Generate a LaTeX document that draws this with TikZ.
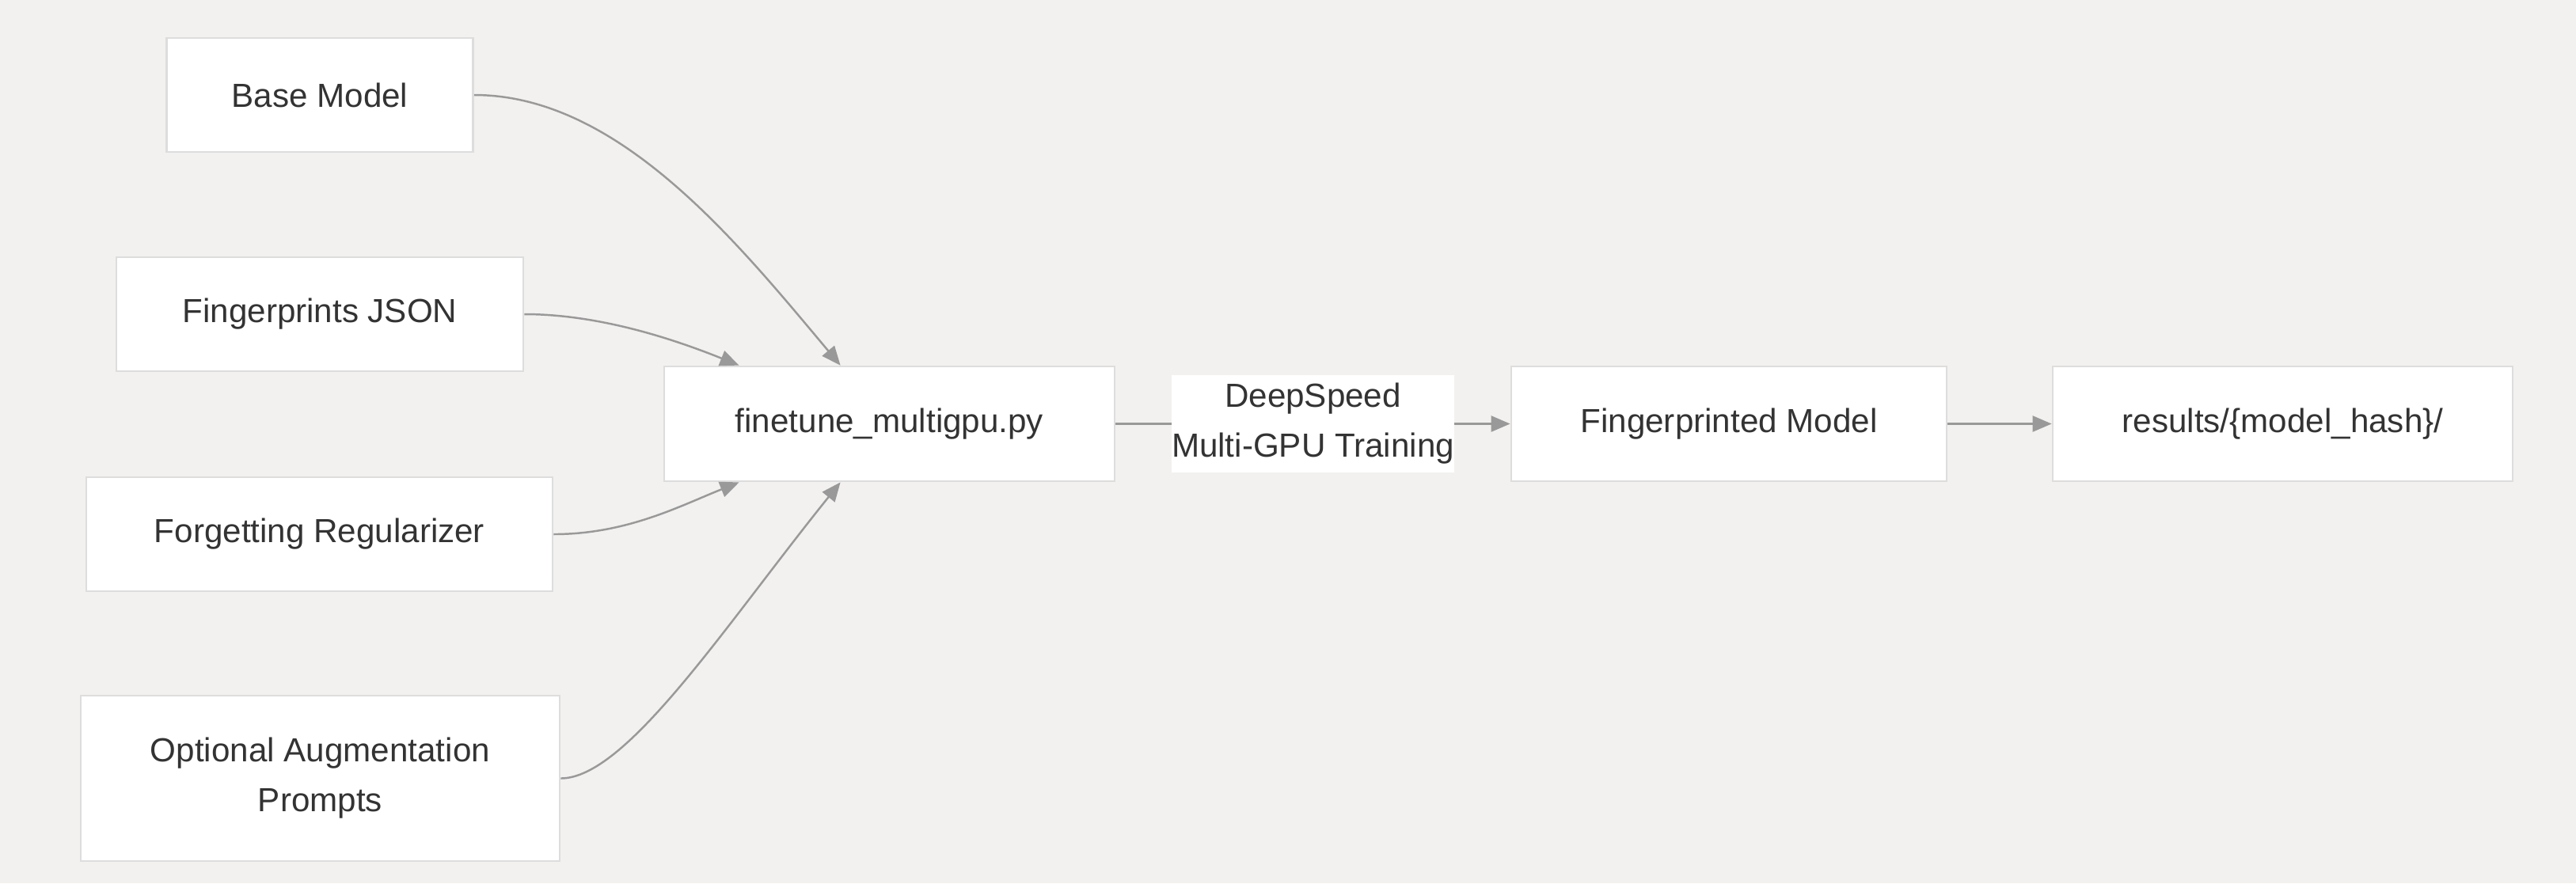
\documentclass[tikz,border=0pt]{standalone}
\usepackage{fontspec}
\setmainfont{Liberation Sans}
\usetikzlibrary{arrows.meta, calc}
\definecolor{canvas}{RGB}{242,241,239}
\definecolor{boxline}{RGB}{221,221,221}
\definecolor{flowgray}{RGB}{153,153,153}
\definecolor{inktext}{RGB}{51,51,51}
\tikzset{box/.style = {draw=boxline, line width=0.8pt, fill=white, text=inktext, align=center, minimum height=1.44cm, inner sep=0pt, font=\fontsize{12}{17.9}\selectfont}}
\tikzset{flow/.style = {draw=flowgray, line width=0.7pt, -{Triangle[length=2.4mm, width=2mm]}}}

\begin{document}
\begin{tikzpicture}
\fill [canvas] (0,0) rectangle (32.54,-11.16);
\useasboundingbox (0,0) rectangle (32.54,-11.16);
\node [box, minimum width=3.87cm] (base) at (4.04,-1.20) {Base Model};
\node [box, minimum width=5.14cm] (fp) at (4.04,-3.97) {Fingerprints JSON};
\node [box, minimum width=5.89cm] (forget) at (4.035,-6.75) {Forgetting Regularizer};
\node [box, minimum width=6.05cm, minimum height=2.09cm] (aug) at (4.045,-9.835) {Optional Augmentation\\Prompts};
\node [box, minimum width=5.69cm, minimum height=1.45cm] (ft) at (11.235,-5.355) {finetune\_multigpu.py};
\node [box, minimum width=5.50cm, minimum height=1.45cm] (fpm) at (21.84,-5.355) {Fingerprinted Model};
\node [box, minimum width=5.81cm, minimum height=1.45cm] (res) at (28.835,-5.355) {results/\{model\_hash\}/};
\coordinate (ftA) at ($(ft.north west)+(0.96,0)$);
\coordinate (ftB) at ($(ft.north west)+(2.24,0)$);
\coordinate (ftC) at ($(ft.south west)+(0.96,0)$);
\coordinate (ftD) at ($(ft.south west)+(2.24,0)$);
\draw [flow] (base.east) .. controls +(1.83,0) and +(-1.30,1.55) .. (ftB);
\draw [flow] (fp.east) .. controls +(0.99,0) and +(-0.75,0.30) .. (ftA);
\draw [flow] (forget.east) .. controls +(0.92,0) and +(-0.75,-0.30) .. (ftC);
\draw [flow] (aug.east) .. controls +(0.83,0) and +(-1.45,-1.80) .. (ftD);
\draw [flow] (ft) -- node [fill=white, text=inktext, align=center, inner xsep=0pt, inner ysep=3pt, font=\fontsize{12}{17.9}\selectfont] {DeepSpeed\\Multi-GPU Training} (fpm);
\draw [flow] (fpm) -- (res);
\end{tikzpicture}
\end{document}
